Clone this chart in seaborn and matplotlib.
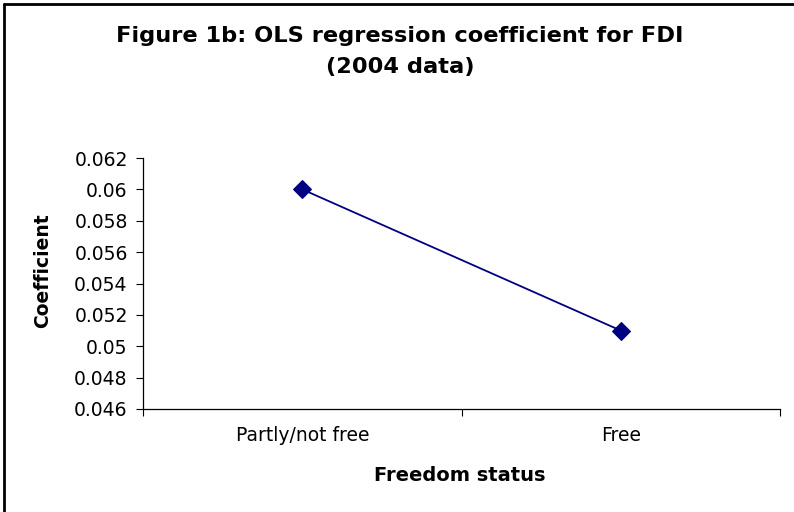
import matplotlib
matplotlib.use('Agg')
import matplotlib.pyplot as plt
import seaborn as sns
import pandas as pd
from matplotlib.ticker import FixedLocator, FixedFormatter
from matplotlib.lines import Line2D

# values
status = ['Partly/not free', 'Free']
coef = [0.060, 0.051]
yticks = [0.046, 0.048, 0.05, 0.052, 0.054, 0.056, 0.058, 0.06, 0.062]
ytick_labels = ['0.046', '0.048', '0.05', '0.052', '0.054', '0.056', '0.058', '0.06', '0.062']

df = pd.DataFrame({'status': status, 'coef': coef})
df['pos'] = range(len(df))

sns.set_theme(style='white')
# the reference text is a widely spaced Arial; DejaVu's wider metrics match it better
plt.rcParams['font.family'] = ['DejaVu Sans']
plt.rcParams['text.color'] = 'black'
plt.rcParams['axes.labelcolor'] = 'black'

fig = plt.figure(figsize=(7.94, 5.12), dpi=100)
ax = fig.add_axes([143 / 794, 1 - 409 / 512, (780 - 143) / 794, (409 - 158) / 512])

sns.lineplot(data=df, x='pos', y='coef', ax=ax, color='#000080', linewidth=1.3,
             marker='D', markersize=9, markeredgecolor='#000080', markerfacecolor='#000080')

ax.set_xlim(-0.5, 1.5)
ax.set_ylim(0.046, 0.062)

# Excel style: category ticks sit between categories, labels under the points
ax.xaxis.set_major_locator(FixedLocator([-0.5, 0.5, 1.5]))
ax.xaxis.set_major_formatter(FixedFormatter(['', '', '']))
ax.xaxis.set_minor_locator(FixedLocator(df['pos'].tolist()))
ax.xaxis.set_minor_formatter(FixedFormatter(status))
ax.tick_params(axis='x', which='major', direction='out', length=5, width=0.8, color='black', bottom=True)
ax.tick_params(axis='x', which='minor', length=0, pad=12, labelsize=13.5, labelcolor='black')

ax.yaxis.set_major_locator(FixedLocator(yticks))
ax.set_yticklabels(ytick_labels)
ax.tick_params(axis='y', direction='out', length=5, width=0.8, color='black', left=True,
               labelsize=13.5, labelcolor='black', pad=6)

for side in ['top', 'right']:
    ax.spines[side].set_visible(False)
for side in ['left', 'bottom']:
    ax.spines[side].set_color('black')
    ax.spines[side].set_linewidth(0.9)

ax.set_xlabel('Freedom status', fontsize=14, fontweight='bold')
ax.xaxis.label.set_va('center')
ax.xaxis.set_label_coords(0.497, -0.263)
ax.set_ylabel('Coefficient', fontsize=13.5, fontweight='bold')
ax.yaxis.label.set_va('center')
ax.yaxis.set_label_coords(-0.157, 0.55)

fig.text(0.504, 1 - 36 / 512, 'Figure 1b: OLS regression coefficient for FDI',
         ha='center', va='center', fontsize=16.2, fontweight='bold')
fig.text(0.504, 1 - 67 / 512, '(2004 data)', ha='center', va='center',
         fontsize=16.2, fontweight='bold')

# chart frame (only top and left edge visible in the reference)
fig.add_artist(Line2D([4 / 794, 1.0], [1 - 4 / 512, 1 - 4 / 512], transform=fig.transFigure,
                      color='black', linewidth=2))
fig.add_artist(Line2D([4 / 794, 4 / 794], [0, 1 - 4 / 512], transform=fig.transFigure,
                      color='black', linewidth=2))

fig.savefig('out.png', dpi=100)
